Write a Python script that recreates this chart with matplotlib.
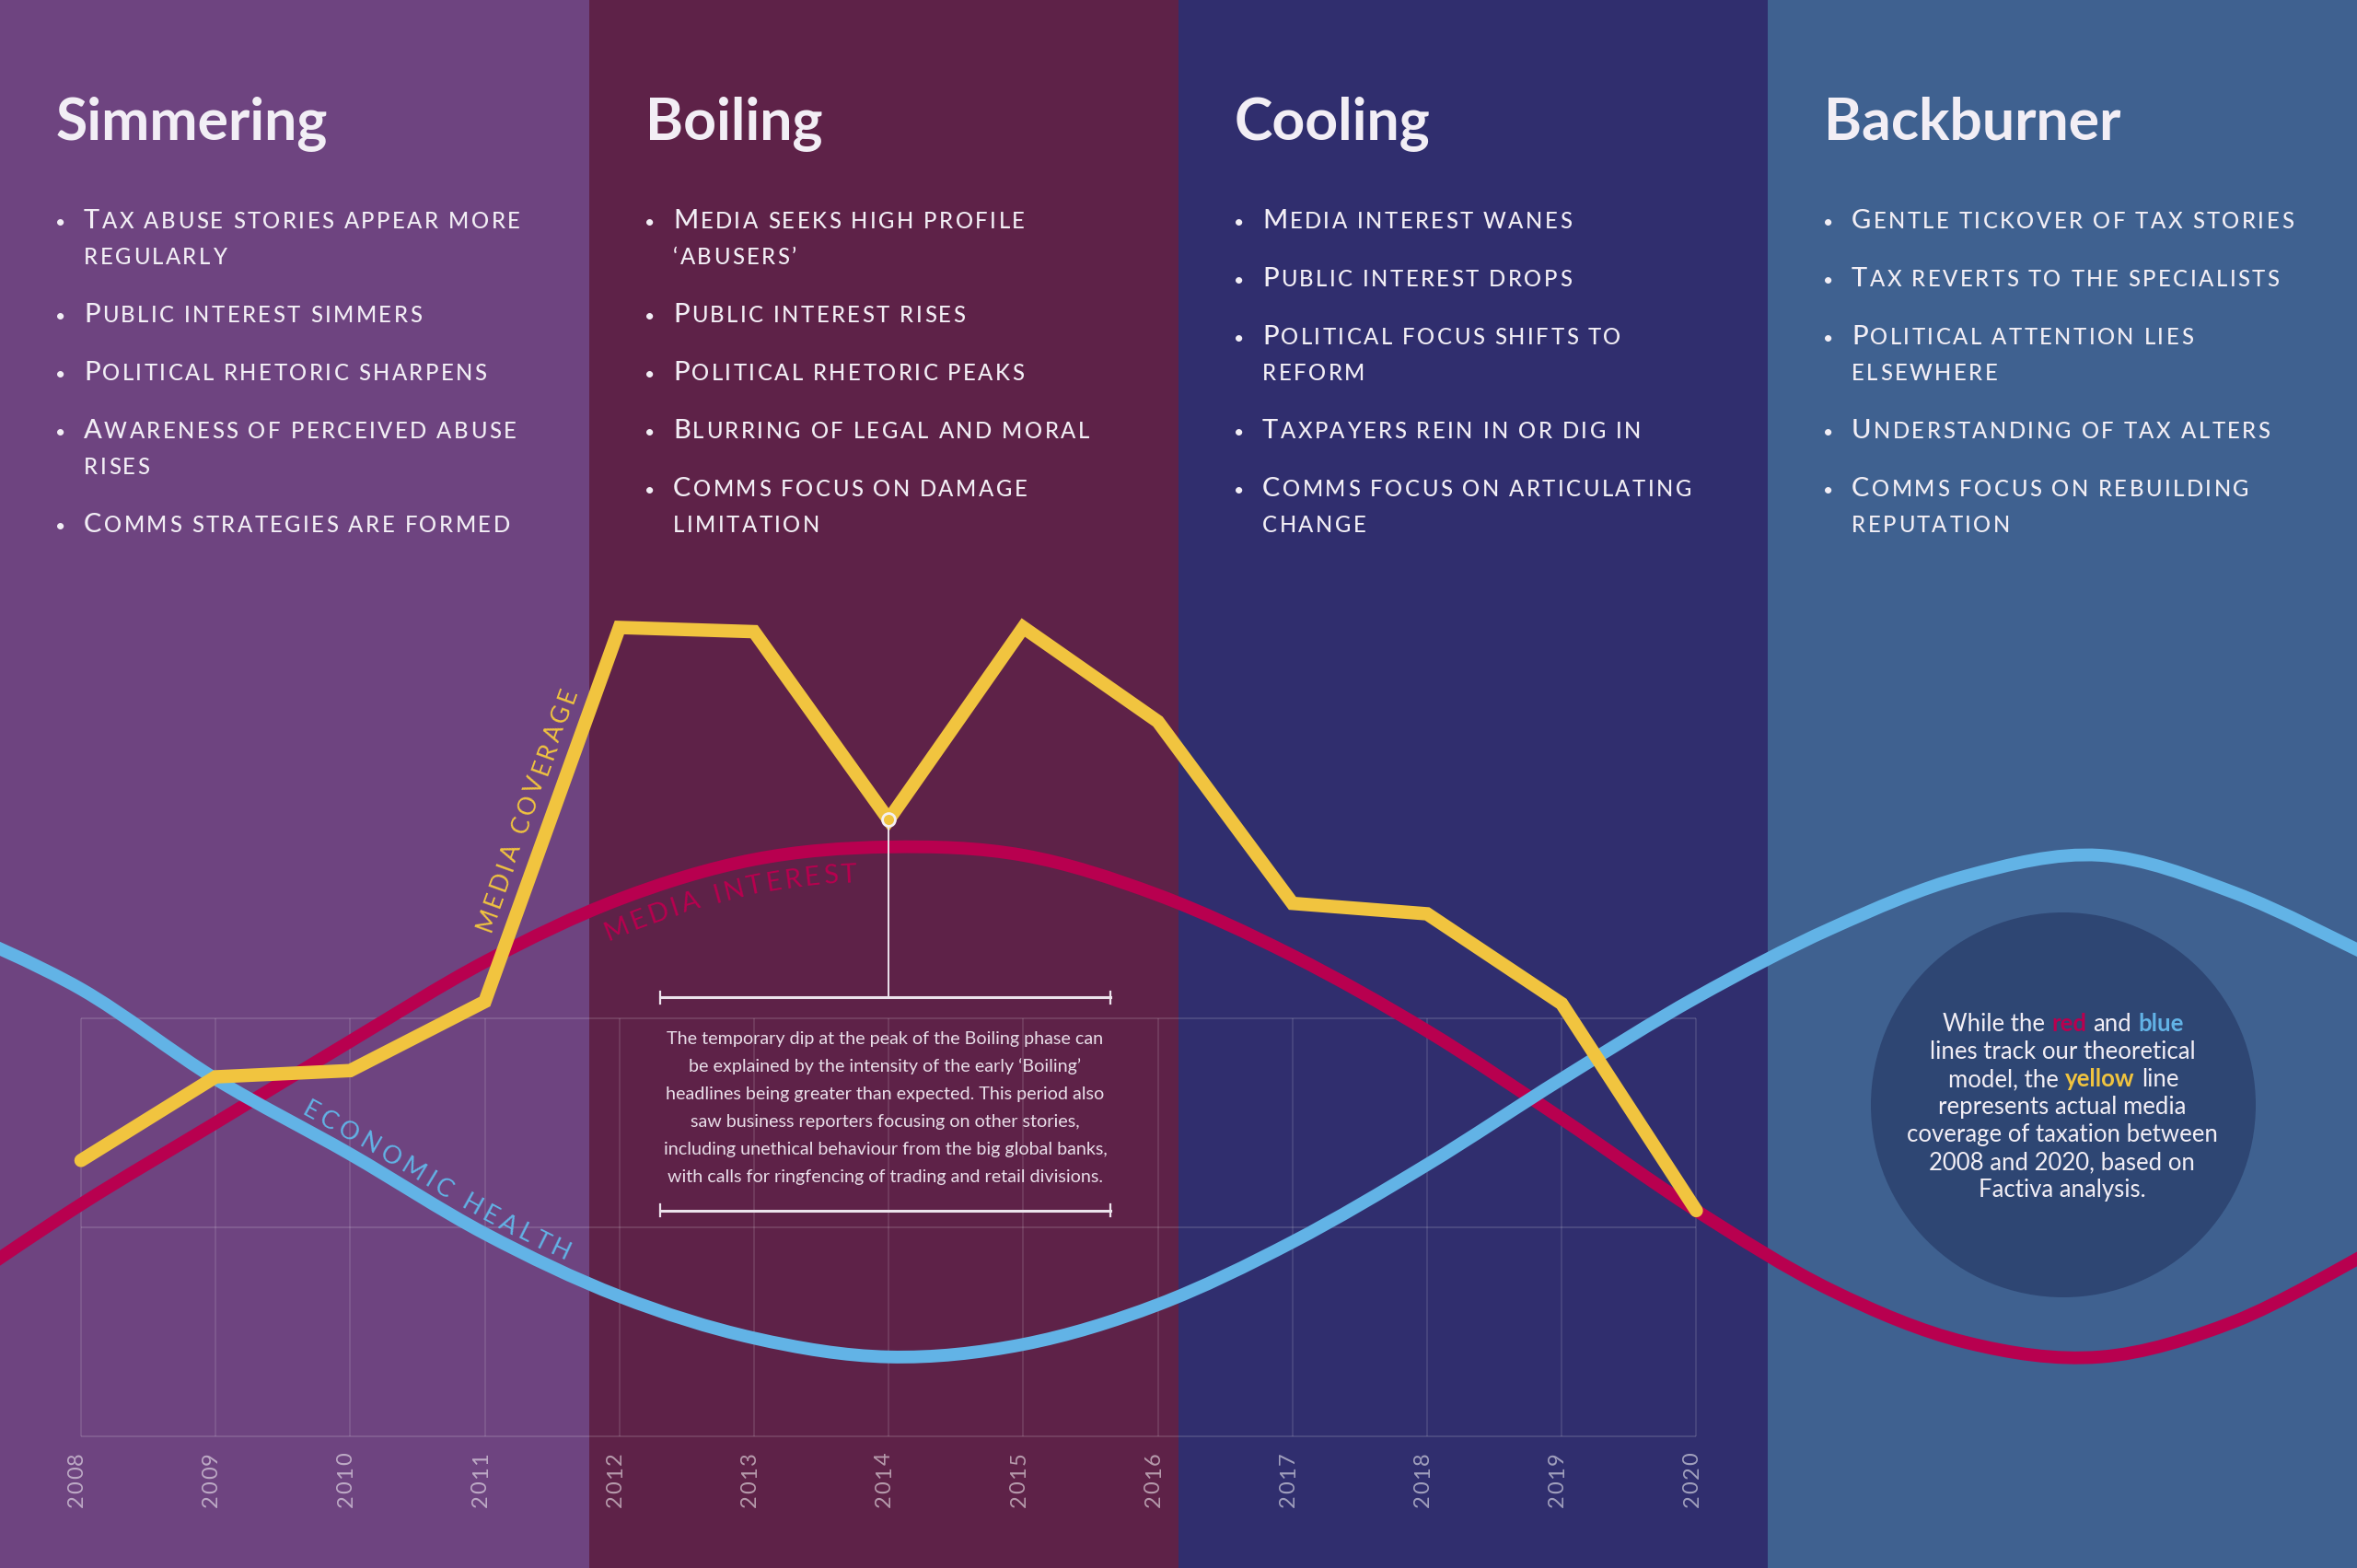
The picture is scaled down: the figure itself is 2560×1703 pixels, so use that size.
import numpy as np
import matplotlib
matplotlib.use("Agg")
import matplotlib.pyplot as plt
from matplotlib.path import Path
from matplotlib.patches import PathPatch, Rectangle, Circle
from matplotlib.transforms import Affine2D
from matplotlib.font_manager import FontProperties, findfont
from matplotlib.ft2font import FT2Font

W, H, DPI = 2560, 1703, 100
FAMILY = "Lato"

# ---- data ----
years = np.arange(2008, 2021)
media_coverage = [1.32, 1.72, 1.75, 2.08, 3.87, 3.85, 2.95, 3.87, 3.42, 2.55, 2.50, 2.07, 1.08]

model_years = np.arange(2007, 2026)
media_interest = [0.68, 1.11, 1.50, 1.89, 2.27, 2.57, 2.76, 2.82, 2.78, 2.59,
                  2.30, 1.94, 1.52, 1.08, 0.70, 0.45, 0.38, 0.55, 0.88]
economic_health = [2.45, 2.14, 1.71, 1.35, 0.97, 0.67, 0.47, 0.38, 0.44, 0.63,
                   0.93, 1.30, 1.71, 2.10, 2.43, 2.68, 2.78, 2.60, 2.30]

phases = ["Simmering", "Boiling", "Cooling", "Backburner"]
phase_colors = ["#6e4480", "#5e2248", "#302e6e", "#3f6190"]
bullets = [
    [["Tax abuse stories appear more", "regularly"],
     ["Public interest simmers"],
     ["Political rhetoric sharpens"],
     ["Awareness of perceived abuse", "rises"],
     ["Comms strategies are formed"]],
    [["Media seeks high profile", "\u2018abusers\u2019"],
     ["Public interest rises"],
     ["Political rhetoric peaks"],
     ["Blurring of legal and moral"],
     ["Comms focus on damage", "limitation"]],
    [["Media interest wanes"],
     ["Public interest drops"],
     ["Political focus shifts to", "reform"],
     ["Taxpayers rein in or dig in"],
     ["Comms focus on articulating", "change"]],
    [["Gentle tickover of tax stories"],
     ["Tax reverts to the specialists"],
     ["Political attention lies", "elsewhere"],
     ["Understanding of tax alters"],
     ["Comms focus on rebuilding", "reputation"]],
]

note_lines = [
    "The temporary dip at the peak of the Boiling phase can",
    "be explained by the intensity of the early \u2018Boiling\u2019",
    "headlines being greater than expected. This period also",
    "saw business reporters focusing on other stories,",
    "including unethical behaviour from the big global banks,",
    "with calls for ringfencing of trading and retail divisions.",
]

YELLOW = "#f1c43f"
RED = "#b8004f"
BLUE = "#62b3e6"
WHITE = "#f2eef5"

circle_lines = [
    [("While the ", WHITE, "normal"), ("red", RED, "bold"), (" and ", WHITE, "normal"), ("blue", BLUE, "bold")],
    [("lines track our theoretical", WHITE, "normal")],
    [("model, the ", WHITE, "normal"), ("yellow", YELLOW, "bold"), (" line", WHITE, "normal")],
    [("represents actual media", WHITE, "normal")],
    [("coverage of taxation between", WHITE, "normal")],
    [("2008 and 2020, based on", WHITE, "normal")],
    [("Factiva analysis.", WHITE, "normal")],
]

# ---- figure ----
fig = plt.figure(figsize=(W / DPI, H / DPI), dpi=DPI, facecolor=phase_colors[0])
ax = fig.add_axes([0, 0, 1, 1])
ax.set_axis_off()
ax.set_xlim(2008 - 88 / 146.2, 2008 + (W - 88) / 146.2)
ax.set_ylim(-143 / 227, 1560 / 227)

# pixel transform: x right, y down from the top-left corner
PX = Affine2D().scale(1, -1).translate(0, H)

for i, c in enumerate(phase_colors):
    ax.add_patch(Rectangle((i * 0.25, 0), 0.25, 1, transform=ax.transAxes,
                           facecolor=c, edgecolor="none", zorder=0))

# grid
grid_c = (1, 1, 1, 0.14)
ax.hlines([0, 1, 2], years[0], years[-1], color=grid_c, lw=1.3, zorder=1)
ax.vlines(years, 0, 2, color=grid_c, lw=1.1, zorder=1)


def smooth_path(xs, ys):
    P = np.column_stack([xs, ys]).astype(float)
    n = len(P)
    verts, codes = [P[0]], [Path.MOVETO]
    for i in range(n - 1):
        p0, p1 = P[max(i - 1, 0)], P[i]
        p2, p3 = P[i + 1], P[min(i + 2, n - 1)]
        verts += [p1 + (p2 - p0) / 6, p2 - (p3 - p1) / 6, p2]
        codes += [Path.CURVE4] * 3
    return Path(verts, codes)


red_path = smooth_path(model_years, media_interest)
blue_path = smooth_path(model_years, economic_health)
ax.add_patch(PathPatch(red_path, facecolor="none", edgecolor=RED, lw=10, zorder=3))
ax.add_patch(PathPatch(blue_path, facecolor="none", edgecolor=BLUE, lw=10, zorder=4))

ax.plot(years, media_coverage, color=YELLOW, lw=10.5, solid_joinstyle="miter",
        solid_capstyle="round", zorder=5)

# annotation for the 2014 dip
dip = media_coverage[list(years).index(2014)]
BR_X = (2012.30, 2015.65)
BR_Y = (2.10, 1.08)
line_c = "#ece3ec"
ax.plot([2014, 2014], [dip, BR_Y[0]], color=line_c, lw=1.4, zorder=6)
for by in BR_Y:
    ax.plot(BR_X, [by, by], color=line_c, lw=2.2, zorder=6)
    for bx in BR_X:
        ax.plot([bx, bx], [by - 0.028, by + 0.028], color=line_c, lw=1.6, zorder=6)
ax.plot(2014, dip, "o", ms=10, mfc=YELLOW, mec="#f4f0f2", mew=2, zorder=7)

# ---- text helpers ----
_fonts = {}


def adv(ch, size, weight):
    if weight not in _fonts:
        _fonts[weight] = FT2Font(findfont(FontProperties(family=FAMILY, weight=weight)), hinting_factor=1)
    f = _fonts[weight]
    f.set_size(size, DPI)
    return f.load_char(ord(ch)).linearHoriAdvance / 65536


def put(x, y, s, size, color, weight="normal", angle=0.0, ha="left"):
    fig.text(x, y, s, transform=PX, fontsize=size, color=color, family=FAMILY,
             fontweight=weight, rotation=angle, rotation_mode="anchor",
             ha=ha, va="baseline")


def run_width(pieces, tracking=0.0):
    n = sum(len(t) for t, *_ in pieces)
    return sum(adv(ch, s, w) for t, s, c, w in pieces for ch in t) + tracking * (n - 1)


def tracked(x, y, pieces, tracking, angle=0.0):
    ca, sa = np.cos(np.radians(angle)), np.sin(np.radians(angle))
    for text, size, color, weight in pieces:
        for ch in text:
            if not ch.isspace():
                put(x, y, ch, size, color, weight, angle)
            a = adv(ch, size, weight) + tracking
            x += a * ca
            y -= a * sa


def rich(x, y, pieces):
    for text, size, color, weight in pieces:
        lead = text[:len(text) - len(text.lstrip())]
        body = text.strip()
        if body:
            put(x + sum(adv(ch, size, weight) for ch in lead), y, body, size, color, weight)
        x += sum(adv(ch, size, weight) for ch in text)


def text_on_path(pts, x_start, text, size, color, offset, tracking, weight="normal"):
    d = np.diff(pts, axis=0)
    keep = np.concatenate([[True], np.hypot(d[:, 0], d[:, 1]) > 1e-6])
    pts = pts[keep]
    seg = np.diff(pts, axis=0)
    L = np.hypot(seg[:, 0], seg[:, 1])
    s = np.concatenate([[0], np.cumsum(L)])
    pos = np.interp(x_start, pts[:, 0], s)
    for ch in text:
        a = adv(ch, size, weight)
        i = int(np.clip(np.searchsorted(s, pos + a / 2) - 1, 0, len(seg) - 1))
        dx, dy = seg[i] / L[i]
        px = np.interp(pos, s, pts[:, 0]) + dy * offset
        py = np.interp(pos, s, pts[:, 1]) - dx * offset
        if not ch.isspace():
            put(px, py, ch, size, color, weight, np.degrees(np.arctan2(-dy, dx)))
        pos += a + tracking


def img_pts(xy):
    p = ax.transData.transform(xy)
    p[:, 1] = H - p[:, 1]
    return p


# ---- phase headings and bullets ----
BIG, SMALL, TRACK = 21, 17.2, 2.4
for i, name in enumerate(phases):
    left = i * 640
    put(left + 61, 151, name, 45, WHITE, "bold")
    y = 248
    for item in bullets[i]:
        put(left + 66, y, "\u2022", 14, WHITE, "normal", ha="center")
        for k, line in enumerate(item):
            if k == 0:
                pieces = [(line[0], BIG, WHITE, 500), (line[1:].upper(), SMALL, WHITE, 500)]
            else:
                pieces = [(line.upper(), SMALL, WHITE, 500)]
            tracked(left + 91, y + 39 * k, pieces, TRACK)
        y += 39 * (len(item) - 1) + 63

# ---- year labels ----
tick_c = (1, 1, 1, 0.55)
for yr, (gx, _) in zip(years, img_pts(np.column_stack([years, np.zeros(len(years))]))):
    pieces = [(str(yr), 17, tick_c, "normal")]
    length = run_width(pieces, 1.5)
    tracked(gx + 2, 1577 + length, pieces, 1.5, angle=90)

# ---- line labels ----
red_px = red_path.to_polygons(ax.transData, closed_only=False)[0]
red_px[:, 1] = H - red_px[:, 1]
blue_px = blue_path.to_polygons(ax.transData, closed_only=False)[0]
blue_px[:, 1] = H - blue_px[:, 1]
yellow_px = img_pts(np.column_stack([years, media_coverage]))

text_on_path(yellow_px, 551, "MEDIA COVERAGE", 19, YELLOW, 20, 3.8)
text_on_path(red_px, 646, "MEDIA INTEREST", 21, RED, -37, 4.6)
text_on_path(blue_px, 321, "ECONOMIC HEALTH", 19.5, BLUE, 12, 5.0)

# ---- note text ----
for k, line in enumerate(note_lines):
    put(961.5, 1134 + 30 * k, line, 14.2, "#e8dde8", ha="center")

# ---- circle callout ----
fig.add_artist(Circle((2241, 1200), 209, transform=PX, facecolor="#2e4673",
                      edgecolor="none", zorder=1))
for k, line in enumerate(circle_lines):
    pieces = [(t, 18.5, c, w) for t, c, w in line]
    rich(2241 - run_width(pieces) / 2, 1120 + 30 * k, pieces)

fig.savefig("out.png", dpi=DPI, facecolor=fig.get_facecolor())
